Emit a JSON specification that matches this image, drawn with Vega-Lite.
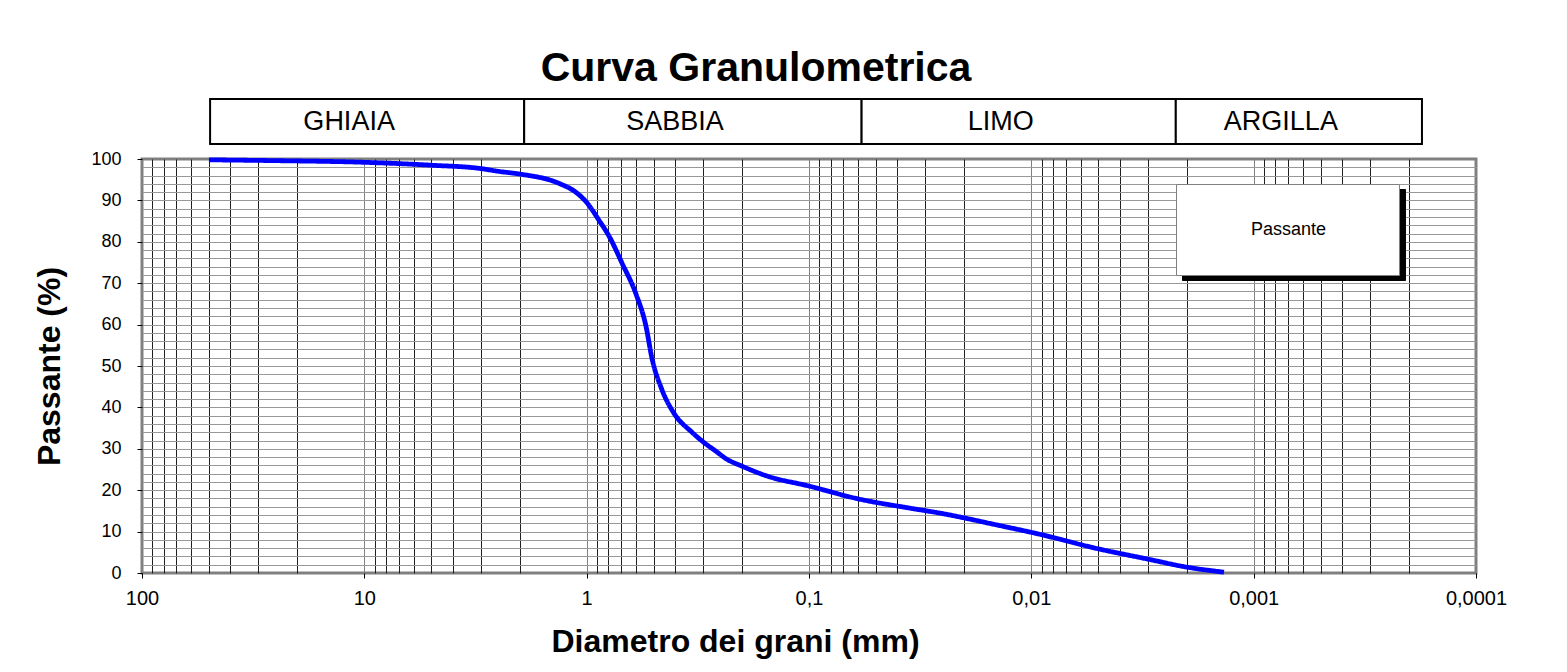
{
  "$schema": "https://vega.github.io/schema/vega-lite/v6.json",
  "autosize": {"type": "pad"},
  "padding": {"left": 31, "top": 48, "right": 0, "bottom": 0},
  "background": "white",
  "config": {"font": "Liberation Sans", "view": {"stroke": null}},
  "title": {"text": "Curva Granulometrica", "fontSize": 41, "fontWeight": "bold", "font": "Liberation Sans", "anchor": "middle", "frame": "group", "dx": -53, "offset": -24, "baseline": "alphabetic", "color": "black"},
  "bounds": "flush",
  "spacing": 15,
  "vconcat": [
    {
      "width": 1334,
      "height": 45,
      "view": {"stroke": null},
      "data": {"values": [
        {"nome": "GHIAIA", "da": 49.4, "a": 1.91},
        {"nome": "SABBIA", "da": 1.91, "a": 0.058},
        {"nome": "LIMO", "da": 0.058, "a": 0.00224},
        {"nome": "ARGILLA", "da": 0.00224, "a": 0.000175}
      ]},
      "transform": [{"calculate": "sqrt(datum.da * datum.a)", "as": "centro"}],
      "layer": [
        {
          "mark": {"type": "rect", "fill": "white", "stroke": "black", "strokeWidth": 2},
          "encoding": {
            "x": {"field": "da", "type": "quantitative", "scale": {"type": "log", "domain": [0.0001, 100], "reverse": true, "nice": false}, "axis": null},
            "x2": {"field": "a"}
          }
        },
        {
          "mark": {"type": "text", "fontSize": 27, "font": "Liberation Sans", "color": "black", "baseline": "middle", "align": "center", "dx": -18},
          "encoding": {
            "x": {"field": "centro", "type": "quantitative", "scale": {"type": "log", "domain": [0.0001, 100], "reverse": true, "nice": false}, "axis": null},
            "text": {"field": "nome"}
          }
        }
      ]
    },
    {
      "width": 1334,
      "height": 414,
      "view": {"stroke": "#808080", "strokeWidth": 3},
      "data": {"values": [
        {"d": 50, "p": 99.8, "serie": "Passante", "ombra": "Passante"},
        {"d": 25, "p": 99.6, "serie": "Passante", "ombra": "Passante"},
        {"d": 10, "p": 99.2, "serie": "Passante", "ombra": "Passante"},
        {"d": 5, "p": 98.5, "serie": "Passante", "ombra": "Passante"},
        {"d": 3, "p": 97.7, "serie": "Passante", "ombra": "Passante"},
        {"d": 2.48, "p": 97.0, "serie": "Passante", "ombra": "Passante"},
        {"d": 2.02, "p": 96.4, "serie": "Passante", "ombra": "Passante"},
        {"d": 1.33, "p": 94.1, "serie": "Passante", "ombra": "Passante"},
        {"d": 1.12, "p": 92.0, "serie": "Passante", "ombra": "Passante"},
        {"d": 1.0, "p": 89.5, "serie": "Passante", "ombra": "Passante"},
        {"d": 0.88, "p": 85.2, "serie": "Passante", "ombra": "Passante"},
        {"d": 0.79, "p": 81.2, "serie": "Passante", "ombra": "Passante"},
        {"d": 0.69, "p": 74.6, "serie": "Passante", "ombra": "Passante"},
        {"d": 0.6, "p": 67.4, "serie": "Passante", "ombra": "Passante"},
        {"d": 0.54, "p": 59.4, "serie": "Passante", "ombra": "Passante"},
        {"d": 0.51, "p": 52.2, "serie": "Passante", "ombra": "Passante"},
        {"d": 0.458, "p": 44.2, "serie": "Passante", "ombra": "Passante"},
        {"d": 0.405, "p": 38.6, "serie": "Passante", "ombra": "Passante"},
        {"d": 0.336, "p": 34.0, "serie": "Passante", "ombra": "Passante"},
        {"d": 0.303, "p": 31.9, "serie": "Passante", "ombra": "Passante"},
        {"d": 0.262, "p": 29.4, "serie": "Passante", "ombra": "Passante"},
        {"d": 0.236, "p": 27.6, "serie": "Passante", "ombra": "Passante"},
        {"d": 0.2, "p": 25.8, "serie": "Passante", "ombra": "Passante"},
        {"d": 0.156, "p": 23.5, "serie": "Passante", "ombra": "Passante"},
        {"d": 0.1, "p": 21.0, "serie": "Passante", "ombra": "Passante"},
        {"d": 0.06, "p": 17.9, "serie": "Passante", "ombra": "Passante"},
        {"d": 0.0355, "p": 15.7, "serie": "Passante", "ombra": "Passante"},
        {"d": 0.026, "p": 14.5, "serie": "Passante", "ombra": "Passante"},
        {"d": 0.014, "p": 11.5, "serie": "Passante", "ombra": "Passante"},
        {"d": 0.00924, "p": 9.4, "serie": "Passante", "ombra": "Passante"},
        {"d": 0.00496, "p": 5.8, "serie": "Passante", "ombra": "Passante"},
        {"d": 0.00302, "p": 3.4, "serie": "Passante", "ombra": "Passante"},
        {"d": 0.00199, "p": 1.4, "serie": "Passante", "ombra": "Passante"},
        {"d": 0.00136, "p": 0.2, "serie": "Passante", "ombra": "Passante"}
      ]},
      "mark": {"type": "line", "strokeWidth": 4.8, "interpolate": "monotone"},
      "encoding": {
        "x": {
          "field": "d", "type": "quantitative",
          "scale": {"type": "log", "domain": [0.0001, 100], "reverse": true, "nice": false},
          "title": "Diametro dei grani (mm)",
          "axis": {
            "values": [100, 90, 80, 70, 60, 50, 40, 30, 20, 10, 9, 8, 7, 6, 5, 4, 3, 2, 1, 0.9, 0.8, 0.7, 0.6, 0.5, 0.4, 0.3, 0.2, 0.1, 0.09, 0.08, 0.07, 0.06, 0.05, 0.04, 0.03, 0.02, 0.01, 0.009, 0.008, 0.007, 0.006, 0.005, 0.004, 0.003, 0.002, 0.001, 0.0009, 0.0008, 0.0007, 0.0006, 0.0005, 0.0004, 0.0003, 0.0002, 0.0001],
            "labelExpr": "abs(log(datum.value) / LN10 - round(log(datum.value) / LN10)) < 0.000001 ? replace(format(datum.value, '~g'), '.', ',') : ''",
            "labelOverlap": false,
            "labelFlush": false,
            "labelBound": false,
            "labelFontSize": 20,
            "labelFont": "Liberation Sans",
            "labelColor": "black",
            "labelPadding": 10,
            "tickSize": {"condition": {"test": "abs(log(datum.value) / LN10 - round(log(datum.value) / LN10)) < 0.000001", "value": 5}, "value": 0},
            "tickColor": "black",
            "tickWidth": 1,
            "domain": false,
            "grid": true,
            "gridColor": {"condition": {"test": "abs(log(datum.value) / LN10 - round(log(datum.value) / LN10)) < 0.000001", "value": "#808080"}, "value": "#1f1f1f"},
            "gridOpacity": {"condition": {"test": "datum.value == 100 || datum.value == 0.0001", "value": 0}, "value": 1},
            "gridWidth": 1,
            "titleFontSize": 32,
            "titleFont": "Liberation Sans",
            "titleFontWeight": "bold",
            "titleColor": "black",
            "titleX": 593,
            "titleY": 78,
            "titleBaseline": "alphabetic",
            "titleAlign": "center"
          }
        },
        "y": {
          "field": "p", "type": "quantitative",
          "scale": {"domain": [0, 100], "nice": false},
          "title": "Passante (%)",
          "axis": {
            "values": [0, 2, 4, 6, 8, 10, 12, 14, 16, 18, 20, 22, 24, 26, 28, 30, 32, 34, 36, 38, 40, 42, 44, 46, 48, 50, 52, 54, 56, 58, 60, 62, 64, 66, 68, 70, 72, 74, 76, 78, 80, 82, 84, 86, 88, 90, 92, 94, 96, 98, 100],
            "labelExpr": "datum.value % 10 == 0 ? datum.label : ''",
            "labelFontSize": 18,
            "labelFont": "Liberation Sans",
            "labelColor": "black",
            "labelPadding": 16,
            "labelOverlap": false,
            "tickSize": {"condition": {"test": "datum.value % 10 == 0", "value": 5}, "value": 0},
            "tickColor": "black",
            "domain": false,
            "grid": true,
            "gridColor": "#999999",
            "gridOpacity": {"condition": {"test": "datum.value == 0 || datum.value == 100", "value": 0}, "value": 1},
            "gridWidth": 1,
            "titleFontSize": 32,
            "titleFont": "Liberation Sans",
            "titleFontWeight": "bold",
            "titleColor": "black",
            "titleAngle": -90,
            "titleX": -83,
            "titleY": 207,
            "titleBaseline": "alphabetic",
            "titleAlign": "center"
          }
        },
        "color": {
          "field": "ombra", "type": "nominal",
          "scale": {"range": ["#0000FF"]},
          "legend": {"title": "Passante", "titleOrient": "right", "titleFontSize": 1, "titleOpacity": 0, "titlePadding": 31, "orient": "none", "legendX": 1040, "legendY": 90, "fillColor": "black", "strokeColor": "black", "padding": 36.5, "labelFontSize": 18, "labelFont": "Liberation Sans", "labelColor": "black", "labelOffset": 20.5, "symbolOpacity": 0, "symbolType": "circle", "symbolSize": 4, "labelLimit": 400, "zindex": 0}
        },
        "strokeDash": {
          "field": "serie", "type": "nominal",
          "scale": {"range": [[1, 0]]},
          "legend": {"title": "Passante", "titleOrient": "right", "titleFontSize": 1, "titleOpacity": 0, "titlePadding": 31, "orient": "none", "legendX": 1034, "legendY": 85, "fillColor": "white", "strokeColor": "#808080", "padding": 36.5, "labelFontSize": 18, "labelFont": "Liberation Sans", "labelColor": "black", "labelOffset": 20.5, "symbolOpacity": 0, "symbolType": "circle", "symbolSize": 4, "labelLimit": 400, "zindex": 1}
        }
      }
    }
  ]
}
